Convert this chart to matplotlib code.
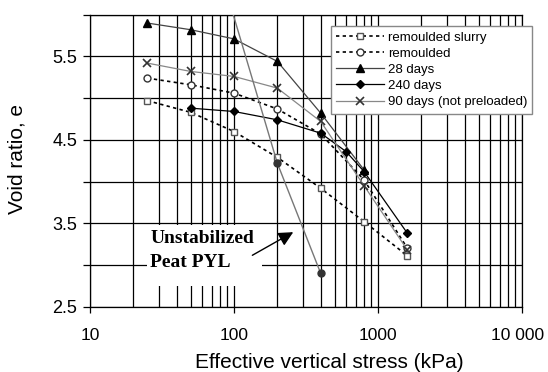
import numpy as np
import matplotlib
matplotlib.use("Agg")
import matplotlib.pyplot as plt
from matplotlib.patches import Rectangle
from matplotlib.transforms import ScaledTranslation
from matplotlib.ticker import FixedLocator, FixedFormatter, LogLocator, NullFormatter

plt.rcParams["font.family"] = ["Liberation Sans", "DejaVu Sans"]

# ── Data ──────────────────────────────────────────────────────────────────────
stress_slurry = [25, 50, 100, 200, 400, 800, 1600]
e_slurry      = [4.97, 4.83, 4.60, 4.29, 3.92, 3.52, 3.11]

stress_remould = [25, 50, 100, 200, 400, 800, 1600]
e_remould      = [5.24, 5.16, 5.06, 4.87, 4.57, 4.02, 3.20]

stress_28 = [25, 50, 100, 200, 400, 800]
e_28      = [5.90, 5.82, 5.71, 5.44, 4.82, 4.14]

stress_240 = [50, 100, 200, 400, 600, 800, 1600]
e_240      = [4.88, 4.84, 4.74, 4.58, 4.36, 4.12, 3.38]

stress_90 = [25, 50, 100, 200, 400, 800, 1600]
e_90      = [5.42, 5.32, 5.26, 5.12, 4.72, 3.95, 3.18]

stress_pyl = [95, 200, 400]
e_pyl      = [6.10, 4.22, 2.90]

x_ticks  = [10, 100, 1000, 10000]
x_labels = ["10", "100", "1000", "10 000"]
y_ticks  = [2.5, 3.5, 4.5, 5.5]
y_minor  = [3.0, 4.0, 5.0, 6.0]

# ── Figure ────────────────────────────────────────────────────────────────────
fig = plt.figure(figsize=(5.48, 3.72), dpi=100)
ax = fig.add_axes([0.1642, 0.1755, 0.7884, 0.785])

ax.set_xscale("log")
ax.set_xlim(10, 10000)
ax.set_ylim(2.5, 6.0)

ax.plot(stress_slurry, e_slurry, color="black", lw=1.2, ls=(0, (2, 2)),
        marker="s", ms=5, mfc="white", mec="#555555", mew=1,
        label="remoulded slurry", zorder=3)
ax.plot(stress_remould, e_remould, color="black", lw=1.2, ls=(0, (2, 2)),
        marker="o", ms=5, mfc="white", mec="#333333", mew=1,
        label="remoulded", zorder=3)
ax.plot(stress_28, e_28, color="#444444", lw=0.9,
        marker="^", ms=5.5, mfc="black", mec="black",
        label="28 days", zorder=3)
ax.plot(stress_240, e_240, color="black", lw=0.9,
        marker="D", ms=4.5, mfc="black", mec="black",
        label="240 days", zorder=3)
ax.plot(stress_90, e_90, color="#888888", lw=0.9,
        marker="x", ms=5.5, mec="#333333", mew=1.2,
        label="90 days (not preloaded)", zorder=3)
ax.plot(stress_pyl, e_pyl, color="#777777", lw=1.0,
        marker="o", ms=5, mfc="#333333", mec="#333333", zorder=3)

# grid & ticks
ax.xaxis.set_major_locator(FixedLocator(x_ticks))
ax.xaxis.set_major_formatter(FixedFormatter(x_labels))
ax.xaxis.set_minor_locator(LogLocator(base=10, subs=np.arange(2, 10)))
ax.xaxis.set_minor_formatter(NullFormatter())
ax.set_yticks(y_ticks)
ax.set_yticks(y_minor, minor=True)
ax.grid(which="both", color="black", lw=0.9, zorder=0)
ax.set_axisbelow(True)
ax.tick_params(axis="x", which="major", direction="out", length=4, width=0.9,
               labelsize=12.5, pad=11)
ax.tick_params(axis="x", which="minor", length=0)
ax.tick_params(axis="y", which="both", direction="out", length=5, width=0.9,
               labelsize=13, pad=4)
for sp in ax.spines.values():
    sp.set_linewidth(0.9)

# nudge "10 000" left so it stays inside the figure
last = ax.get_xticklabels()[-1]
last.set_transform(last.get_transform() + ScaledTranslation(-4 / 100, 0, fig.dpi_scale_trans))

fig.text(329 / 548, 1 - 362 / 372, "Effective vertical stress (kPa)",
         ha="center", va="center", fontsize=15)
fig.text(17 / 548, 1 - 159 / 372, "Void ratio, e", rotation=90,
         ha="center", va="center", fontsize=15)

# annotation: white patch blanks the grid behind the label
ax.add_patch(Rectangle((24.9, 2.75), 156 - 24.9, 3.485 - 2.75,
                       facecolor="white", edgecolor="none", zorder=1))
ax.text(26.3, 3.175, "Unstabilized\nPeat PYL", family="Liberation Serif",
        fontweight="bold", fontsize=14, ha="left", va="center", linespacing=1.5,
        zorder=4)
ax.annotate("", xy=(268, 3.41), xytext=(129, 3.10),
            arrowprops=dict(arrowstyle="-|>", color="black", lw=1,
                            mutation_scale=22), zorder=4)

leg = ax.legend(loc="upper left", bbox_to_anchor=(331 / 548, 1 - 26 / 372),
                bbox_transform=fig.transFigure, borderaxespad=0,
                fontsize=9.5, frameon=True, fancybox=False, framealpha=1,
                edgecolor="#888888", handlelength=3.6, handletextpad=0.3,
                labelspacing=0.3, borderpad=0.4)
leg.get_frame().set_linewidth(1.0)
leg.set_zorder(5)

fig.savefig("out.png", dpi=100)
